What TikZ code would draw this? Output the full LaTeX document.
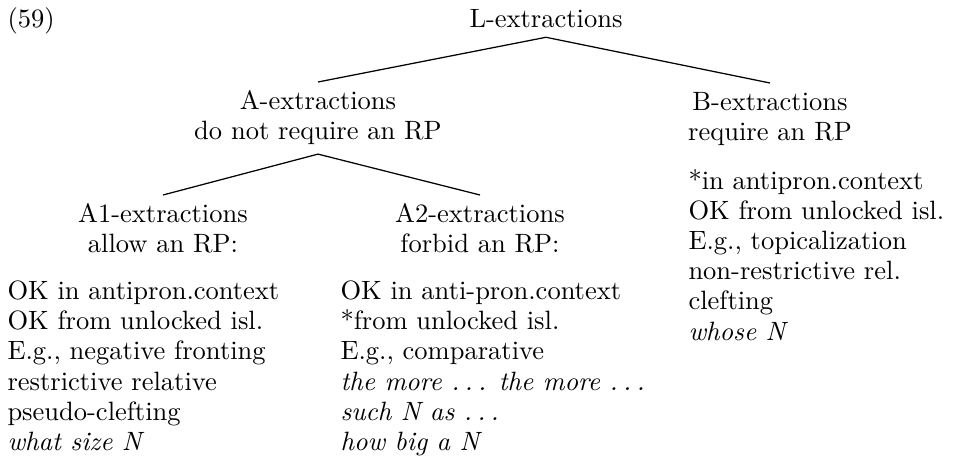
\documentclass[tikz,border=0pt]{standalone}
\newcommand{\spdots}{.\kern0.2em.\kern0.2em.}
\begin{document}
\begin{tikzpicture}[x=0.4pt,y=-0.4pt,
  every node/.style={font=\fontsize{10.6}{12}\selectfont},
  cat/.style={align=center,inner sep=3.4pt},
  list/.style={align=left,inner sep=0pt,anchor=base west},
  branch/.style={line width=0.5pt,black}
]
\useasboundingbox (0,0) rectangle (958,471);
\node[anchor=base west,inner sep=0pt] (num) at (7,28) {(59)};

\node[cat,anchor=base] (L) at (546,28) {L-extractions};
\node[cat,anchor=north] (A) at (318,82) {A-extractions\\do not require an RP};
\node[cat,anchor=north] (B) at (770,83) {B-extractions\\require an RP};
\node[cat,anchor=north] (A1) at (163,195) {A1-extractions\\allow an RP:};
\node[cat,anchor=north] (A2) at (480,195) {A2-extractions\\forbid an RP:};
\draw[branch] (A.north) -- (L.south) -- (B.north);
\draw[branch] (A1.north) -- (A.south) -- (A2.north);

% lists: base anchor sits on the last line
\node[list] (A1list) at (7,450)
  {OK in antipron.context\\OK from unlocked isl.\\E.g., negative fronting\\
   restrictive relative\\pseudo-clefting\\\textit{what size N}};
\node[list] (A2list) at (340,450)
  {OK in anti-pron.context\\*from unlocked isl.\\E.g., comparative\\
   \textit{the more \spdots{} the more \spdots}\\\textit{such N as \spdots}\\
   \textit{how big a N}};
\node[list] (Blist) at (688,340)
  {*in antipron.context\\OK from unlocked isl.\\E.g., topicalization\\
   non-restrictive rel.\\clefting\\\textit{whose N}};
\end{tikzpicture}
\end{document}
